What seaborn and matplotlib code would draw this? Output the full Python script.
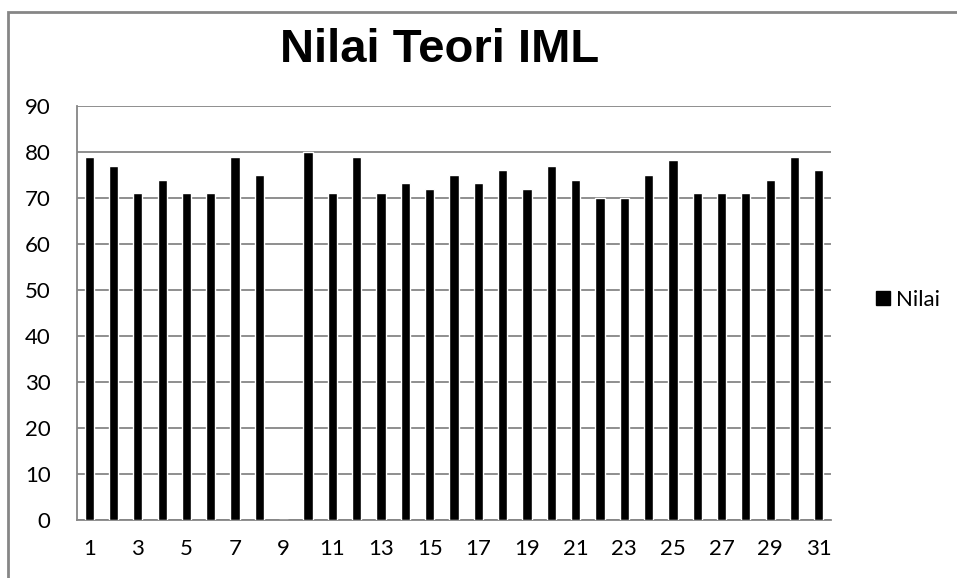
import numpy as np
import pandas as pd
import matplotlib
matplotlib.use("Agg")
import matplotlib.pyplot as plt
import seaborn as sns
from matplotlib.patches import Rectangle
from matplotlib.lines import Line2D

# data
no_urut = list(range(1, 32))
nilai = [79, 77, 71, 74, 71, 71, 79, 75, 0, 80,
         71, 79, 71, 73.3, 72, 75, 73.3, 76, 72, 77,
         74, 70, 70, 75, 78.3, 71, 71, 71, 74, 79, 76]

df = pd.DataFrame({"no": no_urut, "nilai": nilai})

sns.set_style("white")
plt.rcParams["font.family"] = ["Lato", "DejaVu Sans"]
plt.rcParams["text.color"] = "black"
plt.rcParams["xtick.color"] = "black"
plt.rcParams["ytick.color"] = "black"

fig = plt.figure(figsize=(9.57, 5.78), dpi=100)
ax = fig.add_axes([77/957, 1 - 520/578, (831 - 77)/957, (520 - 106)/578])

sns.barplot(data=df, x="no", y="nilai", color="black", width=0.38,
            saturation=1, ax=ax, zorder=3)

grey = "#868686"
ax.set_ylim(0, 90)
ax.set_yticks(np.arange(0, 91, 10))
ax.set_xlim(-0.5, len(no_urut) - 0.5)
ax.set_xticks(range(0, len(no_urut), 2))
ax.set_xticklabels([str(n) for n in no_urut[::2]])
ax.set_xticks(np.arange(-0.5, len(no_urut), 1), minor=True)
ax.tick_params(axis="x", which="major", length=0, pad=14, labelsize=16)
ax.tick_params(axis="x", which="minor", length=7, width=1.3, color=grey, direction="out")
ax.tick_params(axis="y", length=7, width=1.3, color=grey, direction="out", pad=12, labelsize=16)
ax.set_xlabel("")
ax.set_ylabel("")

ax.yaxis.grid(True, color=grey, linewidth=1.3, zorder=0)
ax.set_axisbelow(True)
for s in ["top", "right"]:
    ax.spines[s].set_visible(False)
for s in ["left", "bottom"]:
    ax.spines[s].set_color(grey)
    ax.spines[s].set_linewidth(1.3)

fig.text(440/957, 1 - 50/578, "Nilai Teori IML", ha="center", va="center",
         fontsize=34, fontweight="bold", color="black",
         family=["Liberation Sans Narrow", "Liberation Sans", "DejaVu Sans"])

handle = Line2D([], [], marker="s", color="black", linestyle="none", markersize=10)
fig.legend([handle], ["Nilai"], loc="center left", bbox_to_anchor=(852/957, 1 - 300/578),
           frameon=False, fontsize=16, handletextpad=0.1, handlelength=1)

fig.patches.append(Rectangle((8/957, -0.1), 1.2, 1 - 12/578 + 0.1, transform=fig.transFigure,
                             fill=False, edgecolor=grey, linewidth=2))

fig.savefig("out.png", dpi=100)
